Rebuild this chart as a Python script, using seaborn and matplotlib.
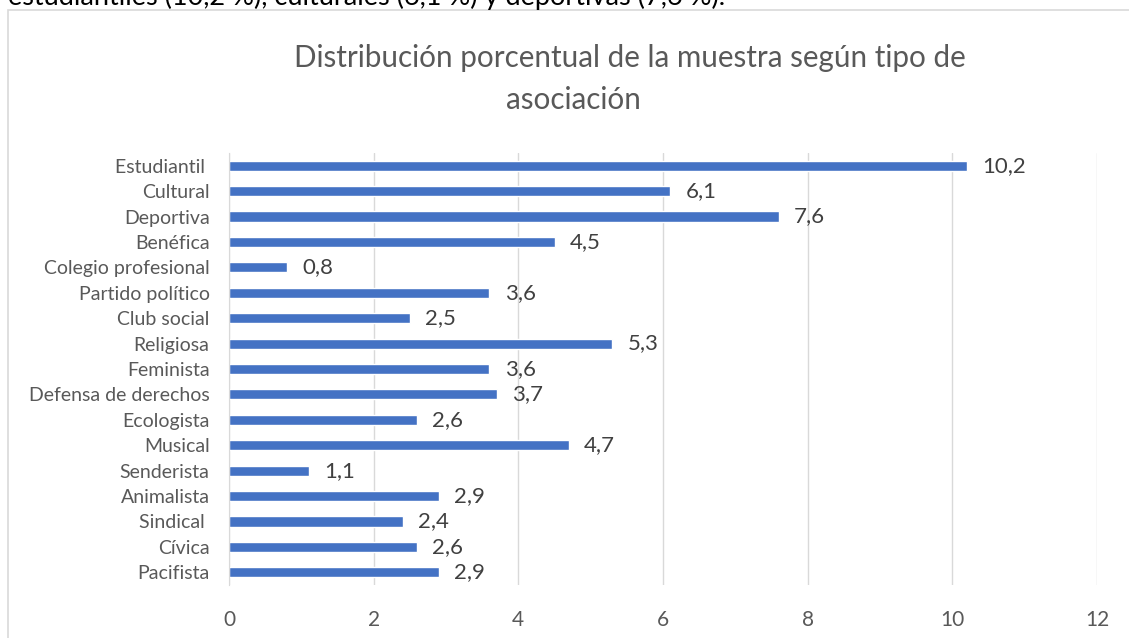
import pandas as pd
import matplotlib.pyplot as plt
import seaborn as sns
from matplotlib.patches import Rectangle

categories = ['Estudiantil ', 'Cultural', 'Deportiva', 'Benéfica', 'Colegio profesional',
              'Partido político', 'Club social', 'Religiosa', 'Feminista',
              'Defensa de derechos', 'Ecologista', 'Musical', 'Senderista',
              'Animalista', 'Sindical ', 'Cívica', 'Pacifista']
values = [10.2, 6.1, 7.6, 4.5, 0.8, 3.6, 2.5, 5.3, 3.6, 3.7, 2.6, 4.7, 1.1, 2.9, 2.4, 2.6, 2.9]
x_ticks = [0, 2, 4, 6, 8, 10, 12]

title_lines = ['Distribución porcentual de la muestra según tipo de', 'asociación']
top_text = 'estudiantiles (10,2 %), culturales (6,1 %) y deportivas (7,6 %).'

df = pd.DataFrame({'tipo': categories, 'pct': values})

sns.set_style('white')
plt.rcParams['font.family'] = ['Lato', 'DejaVu Sans']
text_col = '#595959'

fig = plt.figure(figsize=(11.29, 6.38), dpi=100)
ax = fig.add_axes([229 / 1129, 1 - 585 / 638, (1097 - 229) / 1129, (585 - 153) / 638])

sns.barplot(data=df, x='pct', y='tipo', orient='h', color='#4472C4',
            width=0.4, ax=ax, saturation=1)

ax.set_xlim(0, 12)
ax.set_xticks(x_ticks)
ax.set_xticklabels([str(t) for t in x_ticks])
ax.xaxis.grid(True, color='#D9D9D9', linewidth=1)
ax.set_axisbelow(True)
for s in ['top', 'right', 'bottom']:
    ax.spines[s].set_visible(False)
ax.spines['left'].set_color('#D9D9D9')
ax.set_xlabel('')
ax.set_ylabel('')
ax.tick_params(axis='x', length=0, pad=18, labelsize=15, labelcolor=text_col)
ax.tick_params(axis='y', length=0, pad=14, labelsize=14, labelcolor=text_col)

# data labels with comma decimals
for i, v in enumerate(values):
    ax.annotate(f'{v:.1f}'.replace('.', ','), xy=(v, i), xytext=(11, 0),
                textcoords='offset points', va='center', ha='left',
                fontsize=16, color='#404040')

# title, two lines as wrapped in the original
fig.text(630 / 1129, 1 - 58 / 638, title_lines[0], ha='center', va='center',
         fontsize=21.3, color=text_col)
fig.text(573 / 1129, 1 - 100 / 638, title_lines[1], ha='center', va='center',
         fontsize=21.3, color=text_col)

# chart frame and cut-off paragraph line above it
fig.patches.append(Rectangle((8 / 1129, -0.1), 1.2, 1.1 - 10 / 638,
                             transform=fig.transFigure, fill=False,
                             edgecolor='#D9D9D9', linewidth=1.2))
fig.text(8 / 1129, 1 - 5 / 638, top_text, ha='left', va='baseline',
         fontsize=19.5, color='black')

fig.savefig('out.png', dpi=100)
